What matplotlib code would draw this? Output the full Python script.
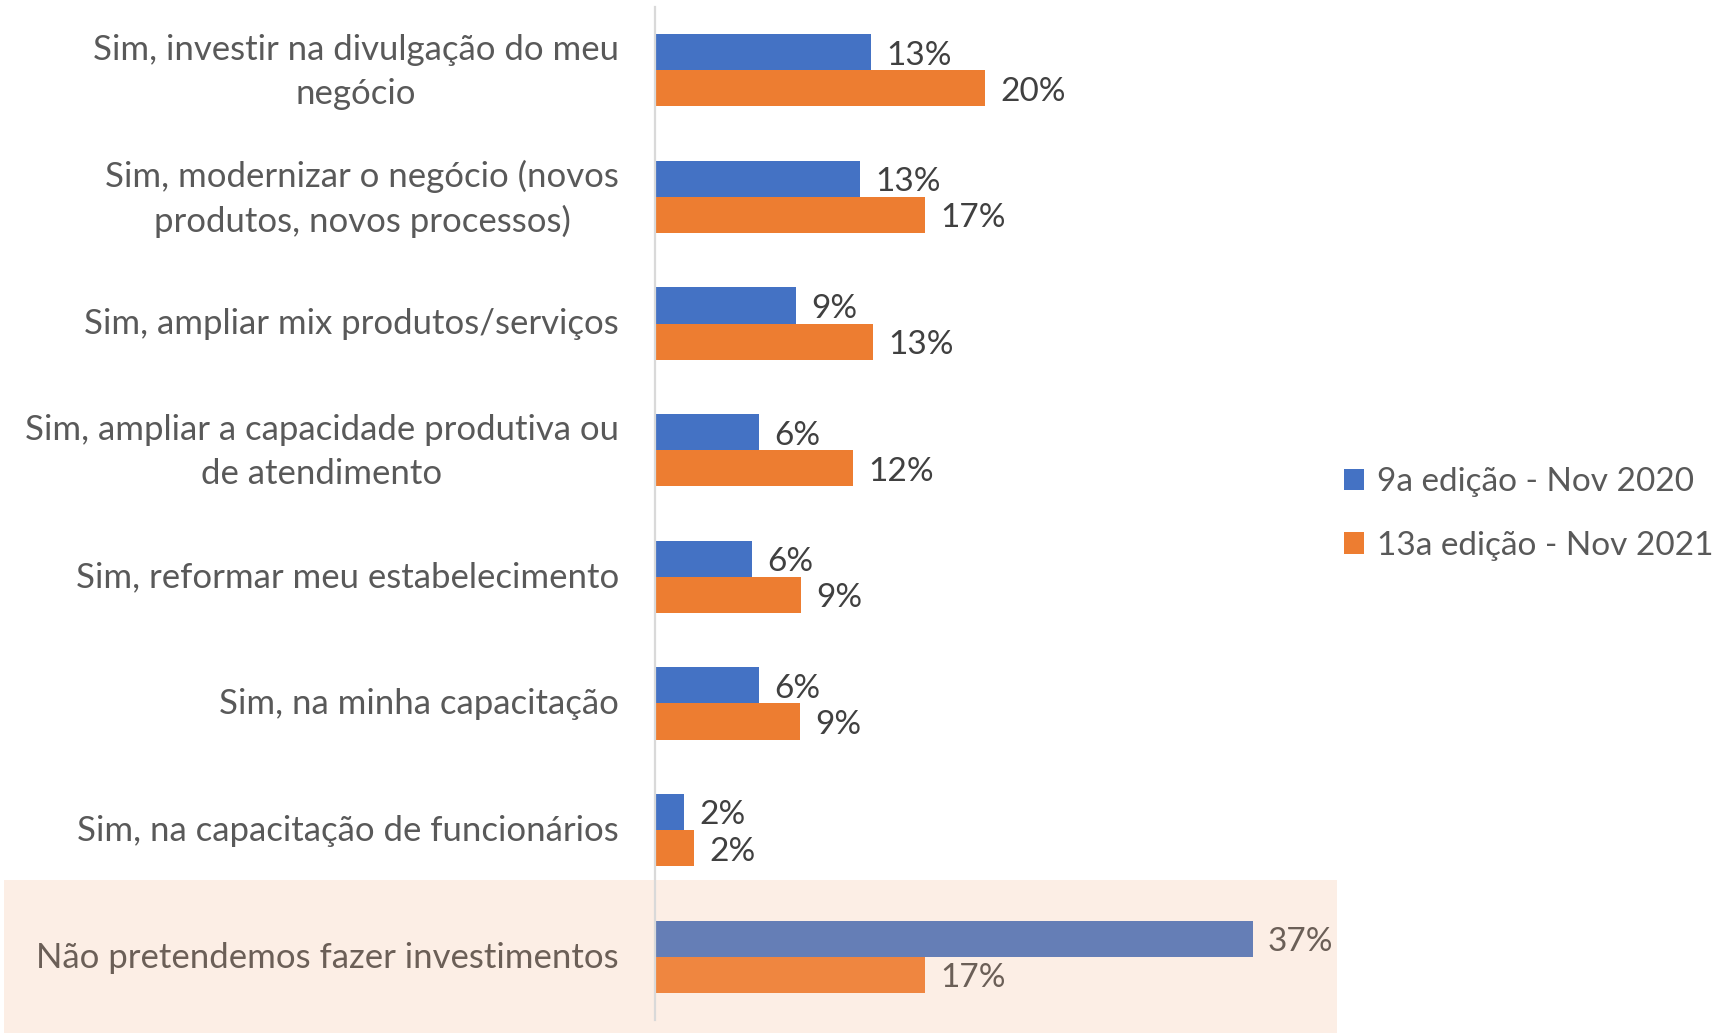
import matplotlib

matplotlib.use("Agg")

import matplotlib.pyplot as plt
from matplotlib.patches import Patch, Rectangle
from matplotlib.transforms import ScaledTranslation

plt.rcParams["font.family"] = ["Lato", "DejaVu Sans"]

categories = [
    "Sim, investir na divulgação do meu\nnegócio",
    "Sim, modernizar o negócio (novos\nprodutos, novos processos)",
    "Sim, ampliar mix produtos/serviços",
    "Sim, ampliar a capacidade produtiva ou\nde atendimento",
    "Sim, reformar meu estabelecimento",
    "Sim, na minha capacitação",
    "Sim, na capacitação de funcionários",
    "Não pretendemos fazer investimentos",
]
nov_2020 = [13.3, 12.6, 8.7, 6.4, 6.0, 6.4, 1.8, 36.8]
nov_2021 = [20.3, 16.6, 13.4, 12.2, 9.0, 8.9, 2.4, 16.6]
series_names = ["9a edição - Nov 2020", "13a edição - Nov 2021"]

BLUE = "#4472C4"
ORANGE = "#ED7D31"
BLUE_HL = "#657EB6"
ORANGE_HL = "#EF8640"
PEACH = "#FCEEE5"
TEXT = "#595959"
VALUE = "#404040"
TEXT_HL = "#6B5F57"

FS = 25

fig = plt.figure(figsize=(17.16, 10.33), dpi=100)

ax = fig.add_axes([655 / 1716, 13 / 1033, 682 / 1716, 1013 / 1033])
ax.set_facecolor("none")

# highlight box behind the last category
ax.add_patch(
    Rectangle((4 / 1716, 0), 1333 / 1716, 153 / 1033, transform=fig.transFigure,
              facecolor=PEACH, edgecolor="none", zorder=0, clip_on=False)
)

n = len(categories)
ypos = list(range(n))
h = 0.285
last = n - 1

c1 = [BLUE_HL if i == last else BLUE for i in ypos]
c2 = [ORANGE_HL if i == last else ORANGE for i in ypos]
b1 = ax.barh([y - h / 2 for y in ypos], nov_2020, height=h, color=c1, zorder=2)
b2 = ax.barh([y + h / 2 for y in ypos], nov_2021, height=h, color=c2, zorder=2)

for bars, vals in ((b1, nov_2020), (b2, nov_2021)):
    for i, (bar, v) in enumerate(zip(bars, vals)):
        ax.annotate(f"{round(v):.0f}%",
                    (bar.get_width(), bar.get_y() + bar.get_height() / 2),
                    xytext=(11, -2.5), textcoords="offset points",
                    va="center", ha="left", fontsize=24,
                    color=TEXT_HL if i == last else VALUE)

ax.set_ylim(n - 0.5, -0.5)
ax.set_xlim(0, 42)
ax.set_yticks(ypos)
ax.set_yticklabels(categories, fontsize=FS, color=TEXT, ma="center", linespacing=1.45)
ax.tick_params(axis="y", length=0, pad=26)
ax.set_xticks([])

# nudge labels up a little (multi-line blocks sit lower than in the original)
for i, lab in enumerate(ax.get_yticklabels()):
    dy = 5 if "\n" in categories[i] else 1.5
    lab.set_transform(lab.get_transform() + ScaledTranslation(0, dy / 72, fig.dpi_scale_trans))
    if i == last:
        lab.set_color(TEXT_HL)

for side in ("top", "right", "bottom"):
    ax.spines[side].set_visible(False)
ax.spines["left"].set_color("#D9D9D9")
ax.spines["left"].set_linewidth(1.6)

handles = [Patch(facecolor=BLUE), Patch(facecolor=ORANGE)]
fig.legend(handles, series_names, loc="center left",
           bbox_to_anchor=(1344 / 1716, 1 - 514 / 1033),
           frameon=False, fontsize=24, labelcolor=TEXT,
           handlelength=0.6, handleheight=0.6, handletextpad=0.4,
           labelspacing=1.0, borderpad=0, borderaxespad=0)

fig.savefig("out.png", dpi=100)
